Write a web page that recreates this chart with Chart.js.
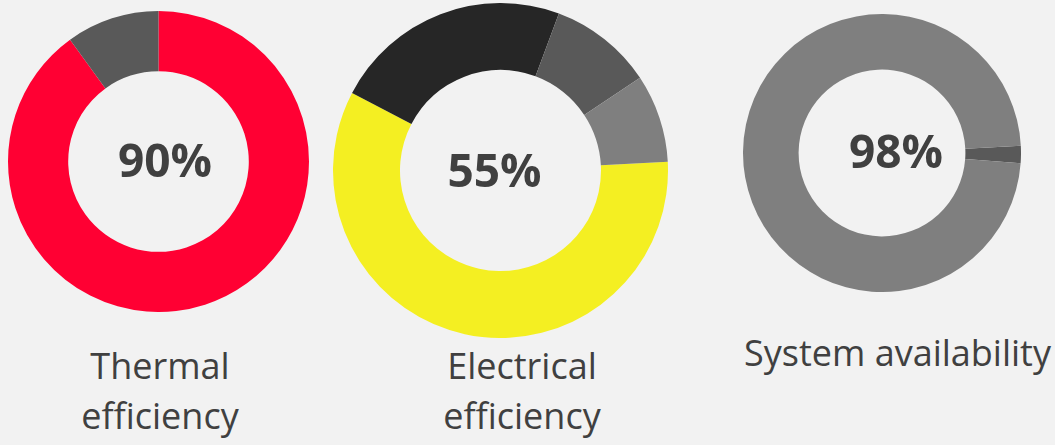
<!DOCTYPE html>
<html>
<head>
<meta charset="utf-8">
<script src="https://cdn.jsdelivr.net/npm/chart.js@4/dist/chart.umd.min.js"></script>
<style>
  html, body { margin: 0; padding: 0; background: #f2f2f2; width: 1055px; height: 445px; overflow: hidden; }
  .c { position: absolute; }
  .lbl { position: absolute; font-family: "Open Sans", sans-serif; font-size: 36px; line-height: 50px; color: #404040; text-align: center; white-space: nowrap; }
</style>
</head>
<body>
<div class="c" style="left:8px;top:11px;width:301px;height:301px;"><canvas id="c1" width="301" height="301"></canvas></div>
<div class="c" style="left:333px;top:3px;width:335px;height:335px;"><canvas id="c2" width="335" height="335"></canvas></div>
<div class="c" style="left:743px;top:14px;width:278px;height:278px;"><canvas id="c3" width="278" height="278"></canvas></div>
<div class="lbl" id="l1" style="left:60px;top:341px;width:200px;"></div>
<div class="lbl" id="l2" style="left:422px;top:341px;width:200px;"></div>
<div class="lbl" id="l3" style="left:744px;top:328px;width:300px;"></div>
<script>
// ---- data ----
const thermalCategories = ['Thermal efficiency', 'Losses'];
const thermalValues = [90, 10];
const electricalCategories = ['Electrical efficiency', 'Loss A', 'Loss B', 'Loss C'];
const electricalValues = [58.5, 23, 10, 8.5];
const availabilityCategories = ['Downtime', 'System availability'];
const availabilityValues = [2, 98];
const centerLabels = ['90%', '55%', '98%'];
const bottomLabels = [['Thermal', 'efficiency'], ['Electrical', 'efficiency'], ['System availability']];

// ---- styles / layout ----
const palette1 = ['#ff0033', '#595959'];
const palette2 = ['#f4ef22', '#262626', '#595959', '#7f7f7f'];
const palette3 = ['#595959', '#7f7f7f'];
const textOffsets = [[6.5, 15], [-6, 16.5], [14, 14.8]]; // dx, baseline dy from center

const centerTextPlugin = {
  id: 'centerText',
  afterDraw(chart, args, opts) {
    const meta = chart.getDatasetMeta(0);
    const arc = meta.data[0];
    const ctx = chart.ctx;
    ctx.save();
    ctx.font = 'bold 46px "Open Sans", sans-serif';
    ctx.fillStyle = '#404040';
    ctx.textAlign = 'center';
    ctx.textBaseline = 'alphabetic';
    ctx.fillText(opts.text, arc.x + opts.dx, arc.y + opts.dy);
    ctx.restore();
  }
};

function makeChart(id, labels, values, colors, rotation, idx) {
  return new Chart(document.getElementById(id), {
    type: 'doughnut',
    data: { labels: labels, datasets: [{ data: values, backgroundColor: colors, borderWidth: 0, hoverOffset: 0, offset: 0 }] },
    options: {
      responsive: false,
      animation: false,
      events: [],
      cutout: '60%',
      rotation: rotation,
      layout: { padding: 0 },
      plugins: {
        legend: { display: false },
        tooltip: { enabled: false },
        centerText: { text: centerLabels[idx], dx: textOffsets[idx][0], dy: textOffsets[idx][1] }
      }
    },
    plugins: [centerTextPlugin]
  });
}

makeChart('c1', thermalCategories, thermalValues, palette1, 0, 0);
makeChart('c2', electricalCategories, electricalValues, palette2, 87, 1);
makeChart('c3', availabilityCategories, availabilityValues, palette3, 87, 2);

document.getElementById('l1').innerHTML = bottomLabels[0].join('<br>');
document.getElementById('l2').innerHTML = bottomLabels[1].join('<br>');
document.getElementById('l3').innerHTML = bottomLabels[2].join('<br>');
</script>
</body>
</html>
